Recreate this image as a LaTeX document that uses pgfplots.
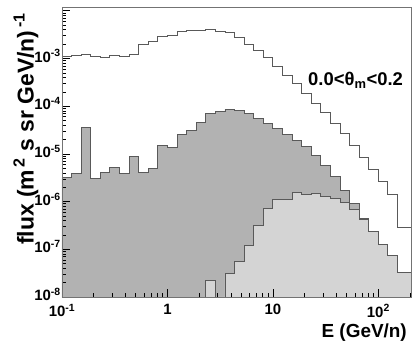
\documentclass[border=0pt]{standalone}
\usepackage{pgfplots}
\pgfplotsset{compat=1.18}
\usepackage{pgfplotstable}
\usepackage{fontspec}
\setmainfont{Liberation Sans}

\definecolor{darkfill}{gray}{0.70}
\definecolor{lightfill}{gray}{0.83}
\definecolor{histline}{gray}{0.35}
\definecolor{framegray}{gray}{0.45}

% bin edges 10^(-1+k/11), value = content of bin starting at x
\pgfplotstableread{
x y
0.1 1.12e-3
0.12328 1.17e-3
0.15199 1.21e-3
0.18738 1.13e-3
0.23101 1.03e-3
0.28480 1.17e-3
0.35112 1.12e-3
0.43288 1.23e-3
0.53367 1.97e-3
0.65793 2.23e-3
0.81113 2.85e-3
1 3.09e-3
1.2328 3.6e-3
1.5199 3.94e-3
1.8738 3.94e-3
2.3101 4.13e-3
2.8480 3.75e-3
3.5112 3.46e-3
4.3288 2.71e-3
5.3367 1.97e-3
6.5793 1.5e-3
8.1113 1.03e-3
10 6.65e-4
12.328 4.45e-4
15.199 2.98e-4
18.738 1.86e-4
23.101 1.15e-4
28.480 7.24e-5
35.112 4.25e-5
43.288 2.69e-5
53.367 1.5e-5
65.793 8.4e-6
81.113 4.69e-6
100 2.62e-6
123.28 1.43e-6
151.99 2.87e-7
187.38 2.87e-7
231.01 2.87e-7
}\whitehist

\pgfplotstableread{
x y
0.1 3.23e-6
0.12328 3.93e-6
0.15199 3.64e-5
0.18738 2.99e-6
0.23101 4.12e-6
0.28480 5.09e-6
0.35112 3.93e-6
0.43288 8.81e-6
0.53367 4.12e-6
0.65793 4.85e-6
0.81113 1.5e-5
1 1.38e-5
1.2328 2.5e-5
1.5199 3.1e-5
1.8738 4.6e-5
2.3101 6.9e-5
2.8480 7.8e-5
3.5112 8.6e-5
4.3288 8.2e-5
5.3367 7.0e-5
6.5793 5.5e-5
8.1113 4.3e-5
10 3.41e-5
12.328 2.56e-5
15.199 1.91e-5
18.738 1.43e-5
23.101 9.25e-6
28.480 5.7e-6
35.112 3.34e-6
43.288 1.74e-6
53.367 9.04e-7
65.793 4.38e-7
81.113 4.38e-7
}\darkhist

\pgfplotstableread{
x y
2.3101 2.17e-8
2.8480 1e-12
3.5112 3.05e-8
4.3288 5.45e-8
5.3367 1.18e-7
6.5793 3.12e-7
8.1113 7.1e-7
10 1.12e-6
12.328 1.12e-6
15.199 1.54e-6
18.738 1.38e-6
23.101 1.45e-6
28.480 1.3e-6
35.112 1.18e-6
43.288 9.5e-7
53.367 6.76e-7
65.793 4.27e-7
81.113 2.39e-7
100 1.24e-7
123.28 7.46e-8
151.99 3.24e-8
187.38 3.24e-8
231.01 3.24e-8
}\lighthist

\begin{document}
\begin{tikzpicture}
\begin{axis}[name=ax,
scale only axis,
width=349bp, height=290bp,
xmode=log, ymode=log,
log origin y=infty,
xmin=0.1, xmax=204,
ymin=1e-8, ymax=1.2e-2,
axis on top,
axis line style={draw=framegray, line width=0.8bp},
xtick={0.1,1,10,100},
xticklabels={10\textsuperscript{-1},1,10,10\textsuperscript{2}},
minor xtick={0.2,0.3,0.4,0.5,0.6,0.7,0.8,0.9,2,3,4,5,6,7,8,9,20,30,40,50,60,70,80,90,200},
ytick={1e-8,1e-7,1e-6,1e-5,1e-4,1e-3,1e-2},
yticklabels={10\textsuperscript{-8},10\textsuperscript{-7},10\textsuperscript{-6},10\textsuperscript{-5},10\textsuperscript{-4},10\textsuperscript{-3},{}},
minor ytick={2e-8,3e-8,4e-8,5e-8,6e-8,7e-8,8e-8,9e-8,2e-7,3e-7,4e-7,5e-7,6e-7,7e-7,8e-7,9e-7,2e-6,3e-6,4e-6,5e-6,6e-6,7e-6,8e-6,9e-6,2e-5,3e-5,4e-5,5e-5,6e-5,7e-5,8e-5,9e-5,2e-4,3e-4,4e-4,5e-4,6e-4,7e-4,8e-4,9e-4,2e-3,3e-3,4e-3,5e-3,6e-3,7e-3,8e-3,9e-3},
xtick pos=bottom, ytick pos=left,
tick align=inside,
major tick length=8bp, minor tick length=4bp,
tick style={black, line width=0.6bp},
ticklabel style={font=\fontsize{15}{15}\selectfont\bfseries},
yticklabel style={inner sep=1bp, yshift=2.5bp},
xticklabel style={yshift=-4bp},
no markers, const plot,
every axis plot/.append style={line width=0.9bp},
]
\addplot[draw=histline, fill=darkfill] table {\darkhist} \closedcycle;
\addplot[draw=histline, fill=lightfill] table {\lighthist} \closedcycle;
\addplot[draw=histline] table {\whitehist};
\end{axis}
\node[rotate=90, font=\fontsize{23}{23}\selectfont\bfseries] at ([xshift=-36bp, yshift=168bp]ax.south west) {flux (m\textsuperscript{\,2} s sr GeV/n)\textsuperscript{\,-1}};
\node[anchor=base west, inner sep=0pt, font=\fontsize{18.5}{18.5}\selectfont\bfseries] at ([xshift=246bp, yshift=211bp]ax.south west) {0.0<θ\textsubscript{m}<0.2};
\node[anchor=base east, inner sep=0pt, font=\fontsize{19}{19}\selectfont\bfseries] at ([xshift=345bp, yshift=-41bp]ax.south west) {E (GeV/n)};
\pgfresetboundingbox
\path[use as bounding box] ([xshift=-62bp, yshift=-52bp]ax.south west) rectangle ([xshift=4bp, yshift=7bp]ax.north east);
\end{tikzpicture}
\end{document}
